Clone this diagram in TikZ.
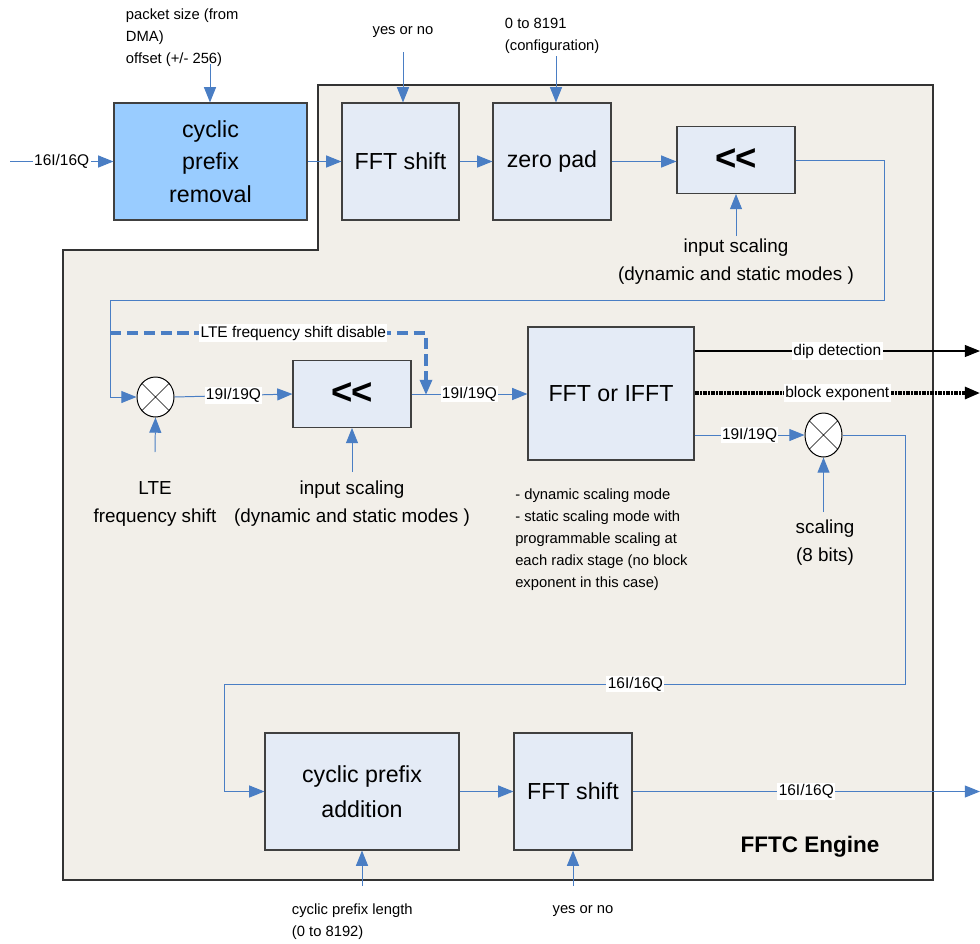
\documentclass[tikz,border=0pt]{standalone}
\usepackage{fontspec}
\setmainfont{Liberation Sans}
\usepackage{tikz}
\usetikzlibrary{shapes.geometric}
\usetikzlibrary{arrows.meta}
\definecolor{lnblue}{RGB}{74,126,196}
\definecolor{engbg}{RGB}{242,239,233}
\definecolor{blkbg}{RGB}{228,235,246}
\definecolor{cprbg}{RGB}{153,204,255}

\begin{document}
\begin{tikzpicture}[x=0.025cm,y=-0.025cm,
  blk/.style={rectangle,draw=black!75,line width=0.8pt,fill=blkbg,align=center,font=\fontsize{16.5}{23}\selectfont},
  shl/.style={blk,minimum width=2.95cm,minimum height=1.67cm,font=\fontsize{26}{26}\selectfont\bfseries},
  mixer/.style={ellipse,draw=black,line width=0.7pt,fill=white,inner sep=0pt,minimum width=0.925cm,minimum height=1cm},
  conn/.style={draw=lnblue,line width=0.7pt,-{Triangle[length=3.8mm,width=3mm]}},
  lbl/.style={fill=white,inner sep=1pt,font=\fontsize{11}{13}\selectfont},
  txt/.style={align=center,font=\fontsize{10.5}{15.6}\selectfont},
  midtxt/.style={align=center,font=\fontsize{13.4}{20}\selectfont}]
\useasboundingbox (0,0) rectangle (980,943);
% FFTC engine outline
\draw[draw=black!80,line width=1pt,fill=engbg] (318,85) -- (933,85) -- (933,880) -- (63,880) -- (63,250) -- (318,250) -- cycle;
\draw (810,847) node[font=\fontsize{16}{16}\selectfont\bfseries] (eng) {FFTC Engine};

% blocks
\draw (210.5,161.5) node[blk,fill=cprbg,minimum width=4.825cm,minimum height=2.925cm] (cpr) {cyclic\\prefix\\removal};
\draw (400.5,161.5) node[blk,minimum width=2.925cm,minimum height=2.925cm] (fsh1) {FFT shift};
\draw (552,161.5) node[blk,minimum width=2.95cm,minimum height=2.925cm] (zpad) {zero pad};
\draw (736,160) node[shl] (shl1) {<\kern-0.5pt<};
\draw (155.5,397) node[mixer] (mix1) {};
\draw (mix1.45) -- (mix1.225) (mix1.135) -- (mix1.315);
\draw (352,394) node[shl] (shl2) {<\kern-0.5pt<};
\draw (611,393.5) node[blk,minimum width=4.15cm,minimum height=3.325cm] (fft) {FFT or IFFT};
\draw (823.5,435) node[mixer,minimum height=1.1cm] (mix2) {};
\draw (mix2.45) -- (mix2.225) (mix2.135) -- (mix2.315);
\draw (362,791.5) node[blk,minimum width=4.85cm,minimum height=2.925cm,font=\fontsize{16.5}{25}\selectfont] (cpa) {cyclic prefix\\addition};
\draw (573,791.5) node[blk,minimum width=2.95cm,minimum height=2.925cm] (fsh2) {FFT shift};

% control inputs
\draw (121,38) node[txt,anchor=west,align=left] (pkt) {packet size (from\\DMA)\\offset (+/- 256)};
\draw (403,32) node[txt] (yn1) {yes or no};
\draw (500,35.5) node[txt,anchor=west,align=left] (cfg) {0 to 8191\\(configuration)};
\draw (736,262) node[midtxt] (isc1) {input scaling\\(dynamic and static modes )};
\draw (155,504) node[midtxt] (lte) {LTE\\frequency shift};
\draw (352,504) node[midtxt] (isc2) {input scaling\\(dynamic and static modes )};
\draw (825,543) node[midtxt] (scl) {scaling\\(8 bits)};
\draw (287,922) node[txt,anchor=west,align=left] (cpl) {cyclic prefix length\\(0 to 8192)};
\draw (583,911) node[txt] (yn2) {yes or no};
\draw (515,489) node[anchor=north west,align=left,inner sep=0pt,font=\fontsize{10.5}{15.6}\selectfont] (mode) {- dynamic scaling mode\\- static scaling mode with\\programmable scaling at\\each radix stage (no block\\exponent in this case)};

\coordinate (pktin) at (210,64);
\coordinate (yn1in) at (403,52);
\coordinate (cfgin) at (556,56);
\coordinate (isc1in) at (736,236);
\coordinate (ltein) at (155,452);
\coordinate (isc2in) at (352,472);
\coordinate (sclin) at (823.5,512);
\coordinate (cplin) at (362,886);
\coordinate (yn2in) at (573,886);
\draw[conn] (pktin) -- (pktin |- cpr.north);
\draw[conn] (yn1in) -- (yn1in |- fsh1.north);
\draw[conn] (cfgin) -- (cfgin |- zpad.north);
\draw[conn] (isc1in) -- (shl1.south);
\draw[conn] (ltein) -- (mix1.south);
\draw[conn] (isc2in) -- (shl2.south);
\draw[conn] (sclin) -- (mix2.south);
\draw[conn] (cplin) -- (cpa.south);
\draw[conn] (yn2in) -- (yn2in |- fsh2.south);

% data path
\coordinate (inl) at (10,161.5);
\coordinate (c1) at (884,300);
\coordinate (c2) at (110,300);
\coordinate (c3) at (905,684);
\coordinate (c4) at (224,684);
\coordinate (d1) at (110,333);
\coordinate (d2) at (426,333);
\coordinate (d3) at (426,395);
\coordinate (dipend) at (980,351);
\coordinate (bexend) at (980,393);
\coordinate (outr) at (980,791.5);
\draw[conn] (inl) -- node[lbl]{16I/16Q} (cpr.west);
\draw[conn] (cpr.east) -- (fsh1.west);
\draw[conn] (fsh1.east) -- (zpad.west);
\draw[conn] (zpad.east) -- (zpad.east -| shl1.west);
\draw[conn] (shl1.east) -| (c1) -- (c2) |- (mix1.west);
\draw[conn,line width=2.3pt,dash pattern=on 8pt off 4pt] (d1) -- node[lbl,pos=0.58]{LTE frequency shift disable} (d2) -- (d3);
\draw[conn] (mix1.east) -- node[lbl]{19I/19Q} (shl2.west);
\draw[conn] (shl2.east) -- node[lbl]{19I/19Q} (fft.west |- shl2.east);
\draw[line width=0.8pt,-{Triangle[length=3.8mm,width=3mm]}] (fft.east |- dipend) -- node[lbl]{dip detection} (dipend);
\draw[line width=2.2pt,dash pattern=on 1.4pt off 0.5pt,-{Triangle[length=3.8mm,width=3mm]}] (fft.east |- bexend) -- node[lbl]{block exponent} (bexend);
\draw[conn] (fft.east |- mix2.west) -- node[lbl]{19I/19Q} (mix2.west);
\draw[conn] (mix2.east) -| (c3) -- node[lbl,pos=0.396]{16I/16Q} (c4) |- (cpa.west);
\draw[conn] (cpa.east) -- (fsh2.west);
\draw[conn] (fsh2.east) -- node[lbl]{16I/16Q} (outr);
\end{tikzpicture}
\end{document}
